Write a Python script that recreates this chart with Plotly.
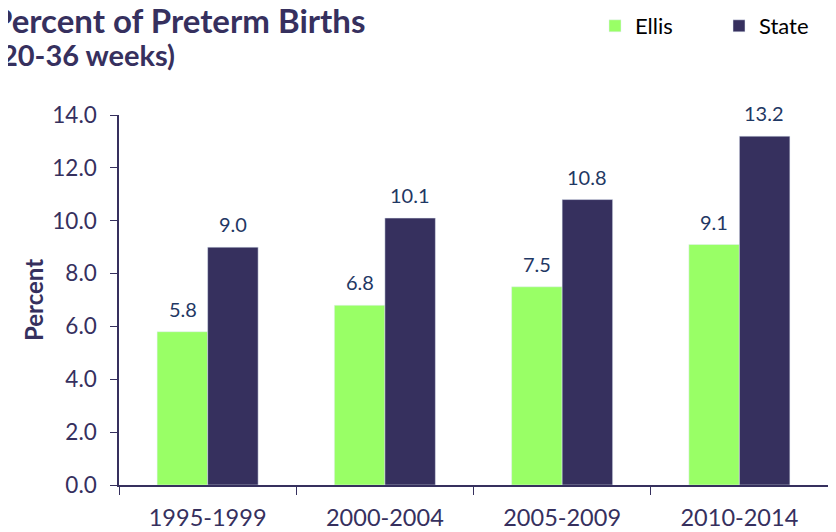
import plotly.graph_objects as go

categories = ["1995-1999", "2000-2004", "2005-2009", "2010-2014"]
ellis = [5.8, 6.8, 7.5, 9.1]
state = [9.0, 10.1, 10.8, 13.2]
y_ticks = [0, 2, 4, 6, 8, 10, 12, 14]
title_lines = ["Percent of Preterm Births", "(20-36 weeks)"]

FONT = "Lato"
AXIS_COLOR = "#36305e"
LABEL_COLOR = "#1f3864"
GREEN = "#99ff66"
PURPLE = "#36305e"

# page has an 8px body margin, so the figure is laid out in its own coordinates
W, H = 828, 524
L, R, T, B = 111, 8, 107, 47
PW, PH = W - L - R, H - T - B

fig = go.Figure()
fig.add_trace(go.Bar(name="Ellis", x=categories, y=ellis, marker_color=GREEN,
                     legend="legend"))
fig.add_trace(go.Bar(name="State", x=categories, y=state, marker_color=PURPLE,
                     legend="legend2"))

# value labels above bars
for vals, shift in ((ellis, -25), (state, 25)):
    for c, v in zip(categories, vals):
        fig.add_annotation(
            x=c, y=v, xref="x", yref="y", text=f"{v:.1f}", showarrow=False,
            xanchor="center", yanchor="bottom", xshift=shift, yshift=9,
            font=dict(family=FONT, size=20, color=LABEL_COLOR),
        )

# two-line title (separate lines for tighter line spacing)
for line, xf, yf, size in ((title_lines[0], -18, 12, 33), (title_lines[1], -17, 47, 29)):
    fig.add_annotation(
        text=f"<b>{line}</b>", xref="paper", yref="paper",
        x=(xf - L) / PW, xanchor="left",
        y=1 + (T - yf) / PH, yanchor="middle",
        showarrow=False, align="left",
        font=dict(family=FONT, size=size, color=AXIS_COLOR),
    )

fig.update_layout(
    width=W, height=H,
    margin=dict(l=L, r=R, t=T, b=B, autoexpand=False),
    paper_bgcolor="white", plot_bgcolor="white",
    barmode="group", bargap=0.43, bargroupgap=0,
    font=dict(family=FONT, color=AXIS_COLOR),
    showlegend=True,
    legend=dict(
        x=(587 - L) / PW, xanchor="left",
        y=1 + (T - 18) / PH, yanchor="middle",
        font=dict(family=FONT, size=22, color="#000000"),
        bgcolor="rgba(0,0,0,0)",
    ),
    legend2=dict(
        x=(711 - L) / PW, xanchor="left",
        y=1 + (T - 18) / PH, yanchor="middle",
        font=dict(family=FONT, size=22, color="#000000"),
        bgcolor="rgba(0,0,0,0)",
    ),
)
fig.update_xaxes(
    type="category", tickson="boundaries", ticks="outside", ticklen=8,
    tickcolor=AXIS_COLOR, showline=True, linecolor=AXIS_COLOR, linewidth=1.5,
    tickfont=dict(family=FONT, size=23.5, color=AXIS_COLOR), showgrid=False,
    automargin=False, ticklabelstandoff=11,
)
fig.update_yaxes(
    range=[0, 14], tickvals=y_ticks, tickformat=".1f", ticks="outside", ticklen=7,
    tickcolor=AXIS_COLOR, showline=True, linecolor=AXIS_COLOR, linewidth=1.5,
    tickfont=dict(family=FONT, size=22.5, color=AXIS_COLOR), showgrid=False,
    zeroline=False, automargin=False, ticklabelstandoff=9,
    title=dict(text="<b>Percent</b>", font=dict(family=FONT, size=24, color=AXIS_COLOR), standoff=2),
)

fig.write_html("out.html")
